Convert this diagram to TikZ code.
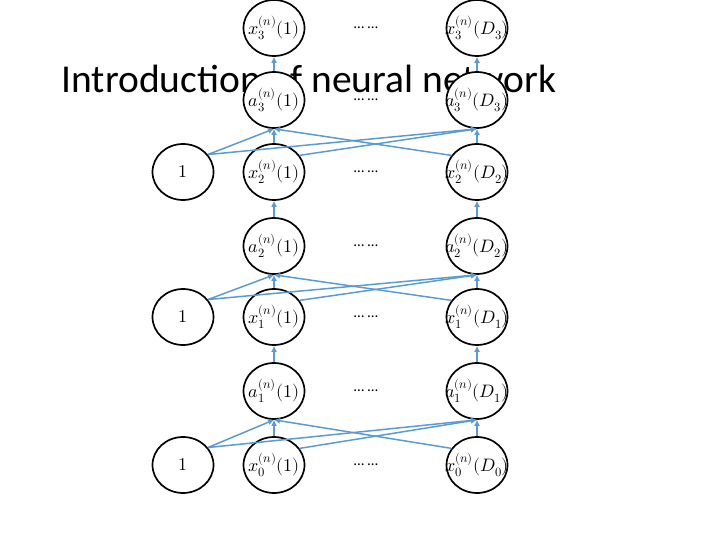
\documentclass[tikz,border=0pt]{standalone}
\usepackage{fontspec}
\usepackage{unicode-math}
\setmainfont{Carlito}
\usetikzlibrary{shapes.geometric, arrows.meta}
\definecolor{linkblue}{RGB}{91,155,213}
\tikzset{
  neuron/.style={draw, ellipse, line width=1.7pt, fill=white, minimum width=61pt, minimum height=56pt, inner sep=0pt},
  neurontext/.style={font=\fontsize{18}{21}\selectfont, inner sep=0pt},
  link/.style={draw=linkblue, line width=1.5pt, -{Latex[length=6pt, width=6pt]}},
  dotsep/.style={font=\fontsize{15}{17}\selectfont}
}

\begin{document}
\begin{tikzpicture}[x=1pt, y=-1pt]
  \useasboundingbox (0,0) rectangle (720,540);
  \node[anchor=base west, font=\fontsize{39.5}{46}\selectfont] (title) at (58,93) {Introduction of neural network};
  % inputs x_k
  \foreach \k/\y in {0/465, 1/317, 2/172, 3/28} {
    \node[neuron, label={[neurontext]center:$x_{\k}^{(n)}(1)$}] (x\k-1) at (274,\y) {};
    \node[neuron, label={[neurontext]center:$x_{\k}^{(n)}(D_{\k})$}] (x\k-D) at (477,\y) {};
    \node[dotsep] (dx\k) at (366,\y) {\ldots\ \ldots};
  }
  % activations a_k
  \foreach \k/\y in {1/391, 2/246, 3/100} {
    \node[neuron, label={[neurontext]center:$a_{\k}^{(n)}(1)$}] (a\k-1) at (274,\y) {};
    \node[neuron, label={[neurontext]center:$a_{\k}^{(n)}(D_{\k})$}] (a\k-D) at (477,\y) {};
    \node[dotsep] (da\k) at (366,\y) {\ldots\ \ldots};
  }
  % bias
  \foreach \k/\y in {0/465, 1/317, 2/172}
    \node[neuron, label={[neurontext]center:$1$}] (b\k) at (183,\y) {};
  % weights
  \foreach \k/\j in {0/1, 1/2, 2/3} {
    \draw[link] (b\k.35) -- (a\j-1.south);
    \draw[link] (b\k.35) -- (a\j-D.south);
    \draw[link] (x\k-1) -- (a\j-1);
    \draw[link] (x\k-1.33) -- (a\j-D.south);
    \draw[link] (x\k-D.147) -- (a\j-1.south);
    \draw[link] (x\k-D) -- (a\j-D);
  }
  % activation
  \foreach \k in {1, 2, 3} {
    \draw[link] (a\k-1) -- (x\k-1);
    \draw[link] (a\k-D) -- (x\k-D);
  }
\end{tikzpicture}
\end{document}
